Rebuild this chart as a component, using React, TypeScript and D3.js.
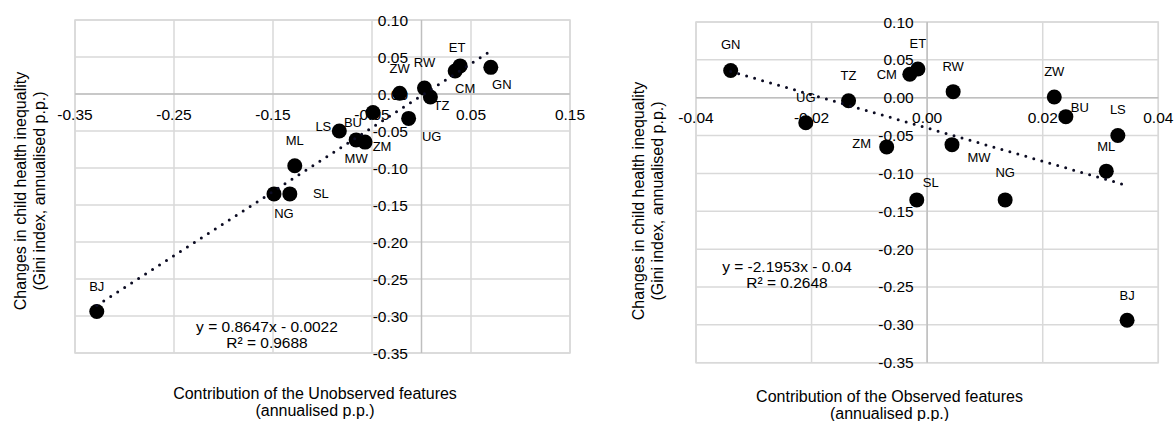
import React from "react";
import * as d3 from "d3";

const countries = ["GN", "UG", "TZ", "CM", "ET", "RW", "ZW", "BU", "LS", "ML", "ZM", "MW", "NG", "SL", "BJ"];
const inequalityChange = [0.036, -0.033, -0.004, 0.031, 0.038, 0.008, 0.001, -0.025, -0.05, -0.097, -0.065, -0.062, -0.135, -0.135, -0.294];
const unobservedContribution = [0.07, -0.013, 0.009, 0.034, 0.039, 0.003, -0.022, -0.049, -0.083, -0.128, -0.057, -0.066, -0.149, -0.133, -0.328];
const observedContribution = [-0.034, -0.021, -0.0136, -0.003, -0.0016, 0.0045, 0.022, 0.024, 0.033, 0.031, -0.007, 0.0043, 0.0135, -0.0018, 0.0346];

const yTicks = [0.1, 0.05, 0, -0.05, -0.1, -0.15, -0.2, -0.25, -0.3, -0.35];
const leftXTicks = [-0.35, -0.25, -0.15, -0.05, 0.05, 0.15];
const rightXTicks = [-0.04, -0.02, 0, 0.02, 0.04];

const leftTrend = { slope: 0.8647, intercept: -0.0022, r2: "0.9688", eq: "y = 0.8647x - 0.0022" };
const rightTrend = { slope: -2.1953, intercept: -0.04, r2: "0.2648", eq: "y = -2.1953x - 0.04" };

const leftTitle = "Contribution of the Unobserved features";
const rightTitle = "Contribution of the Observed features";
const xSubTitle = "(annualised p.p.)";
const yTitle1 = "Changes in child health inequality";
const yTitle2 = "(Gini index, annualised p.p.)";

// label offsets (layout only)
const leftLabelOffsets: Record<string, [number, number]> = {
  ET: [-3, -18], CM: [10, 17], GN: [11, 17], RW: [0, -26], ZW: [0, -25], TZ: [11, 9], UG: [23, 18],
  BU: [-20, 10], LS: [-16, -5], ML: [0, -25], ZM: [17, 4], MW: [0, 19], SL: [31, 0], NG: [10, 20], BJ: [0, -25],
};
const rightLabelOffsets: Record<string, [number, number]> = {
  GN: [0, -26], UG: [0, -25], TZ: [0, -25], ZM: [-25, -3], ET: [0, -25], CM: [-23, 0], RW: [0, -25],
  ZW: [0, -25], BU: [14, -9], LS: [0, -26], ML: [0, -25], MW: [27, 13], NG: [0, -27], SL: [14, -17], BJ: [0, -25],
};

const FONT = "'Liberation Sans', Arial, sans-serif";

const fmt = (t: number) => (Math.abs(t) < 1e-9 ? "0.00" : t.toFixed(2));

type PanelProps = {
  xs: number[];
  xDomain: [number, number];
  xRange: [number, number];
  yRange: [number, number];
  xTicks: number[];
  trend: { slope: number; intercept: number; r2: string; eq: string };
  eqPos: [number, number];
  offsets: Record<string, [number, number]>;
  title: string;
  titlePos: [number, number];
  yTitlePos: [number, number];
};

function Panel(p: PanelProps) {
  const x = d3.scaleLinear().domain(p.xDomain).range(p.xRange);
  const y = d3.scaleLinear().domain([-0.35, 0.1]).range(p.yRange);
  const x0 = x(0);
  const y0 = y(0);
  const [xmin, xmax] = d3.extent(p.xs) as [number, number];
  const line = d3.line<number>().x((v) => x(v)).y((v) => y(p.trend.slope * v + p.trend.intercept));
  return (
    <g fontFamily={FONT}>
      {yTicks.map((t) => (
        <line key={"gy" + t} x1={p.xRange[0]} x2={p.xRange[1]} y1={y(t)} y2={y(t)} stroke="#d9d9d9" strokeWidth={1.5} />
      ))}
      {p.xTicks.map((t) => (
        <line key={"gx" + t} x1={x(t)} x2={x(t)} y1={p.yRange[0]} y2={p.yRange[1]} stroke="#d9d9d9" strokeWidth={1.5} />
      ))}
      <rect x={p.xRange[0]} y={p.yRange[1]} width={p.xRange[1] - p.xRange[0]} height={p.yRange[0] - p.yRange[1]} fill="none" stroke="#d9d9d9" strokeWidth={1.5} />
      <line x1={p.xRange[0]} x2={p.xRange[1]} y1={y0} y2={y0} stroke="#bfbfbf" strokeWidth={1.5} />
      <line x1={x0} x2={x0} y1={p.yRange[0]} y2={p.yRange[1]} stroke="#bfbfbf" strokeWidth={1.5} />
      {p.xTicks.map((t) => (
        <text key={"tx" + t} x={x(t)} y={y0 + 20} textAnchor="middle" dominantBaseline="central" fontSize={15.5} fill="#000">
          {fmt(t)}
        </text>
      ))}
      {yTicks.map((t) => (
        <text key={"ty" + t} x={x0 - 13.5} y={y(t)} textAnchor="end" dominantBaseline="central" fontSize={15.5} fill="#000">
          {fmt(t)}
        </text>
      ))}
      {p.xs.map((v, i) => (
        <circle key={"m" + i} cx={x(v)} cy={y(inequalityChange[i])} r={7.5} fill="#000" />
      ))}
      <path d={line([xmin, xmax]) || ""} fill="none" stroke="#0b0b22" strokeWidth={3} strokeLinecap="round" strokeDasharray="0 8.3" />
      {p.xs.map((v, i) => {
        const off = p.offsets[countries[i]] || [0, -25];
        return (
          <text key={"l" + i} x={x(v) + off[0]} y={y(inequalityChange[i]) + off[1]} textAnchor="middle" dominantBaseline="central" fontSize={13} fill="#000">
            {countries[i]}
          </text>
        );
      })}
      <text x={p.eqPos[0]} y={p.eqPos[1]} textAnchor="middle" dominantBaseline="central" fontSize={15.5} fill="#000">
        {p.trend.eq}
      </text>
      <text x={p.eqPos[0]} y={p.eqPos[1] + 16.5} textAnchor="middle" dominantBaseline="central" fontSize={15.5} fill="#000">
        {"R² = " + p.trend.r2}
      </text>
      <text x={p.titlePos[0]} y={p.titlePos[1]} textAnchor="middle" dominantBaseline="central" fontSize={16} fill="#000">
        {p.title}
      </text>
      <text x={p.titlePos[0]} y={p.titlePos[1] + 17} textAnchor="middle" dominantBaseline="central" fontSize={16} fill="#000">
        {xSubTitle}
      </text>
      <g transform={`translate(${p.yTitlePos[0]},${p.yTitlePos[1]}) rotate(-90)`}>
        <text x={0} y={0} textAnchor="middle" dominantBaseline="central" fontSize={16} fill="#000">
          {yTitle1}
        </text>
        <text x={0} y={19} textAnchor="middle" dominantBaseline="central" fontSize={16} fill="#000">
          {yTitle2}
        </text>
      </g>
    </g>
  );
}

export default function App() {
  return (
    <svg width={1176} height={421} style={{ position: "absolute", left: 0, top: 0, background: "#fff" }}>
      <rect x={0} y={0} width={1176} height={421} fill="#fff" />
      <Panel
        xs={unobservedContribution}
        xDomain={[-0.35, 0.15]}
        xRange={[75, 570]}
        yRange={[353, 20]}
        xTicks={leftXTicks}
        trend={leftTrend}
        eqPos={[267, 326]}
        offsets={leftLabelOffsets}
        title={leftTitle}
        titlePos={[315, 393]}
        yTitlePos={[20, 191]}
      />
      <Panel
        xs={observedContribution}
        xDomain={[-0.04, 0.04]}
        xRange={[696, 1158.3]}
        yRange={[362.7, 22]}
        xTicks={rightXTicks}
        trend={rightTrend}
        eqPos={[787, 266]}
        offsets={rightLabelOffsets}
        title={rightTitle}
        titlePos={[889.5, 396]}
        yTitlePos={[638, 201]}
      />
    </svg>
  );
}
